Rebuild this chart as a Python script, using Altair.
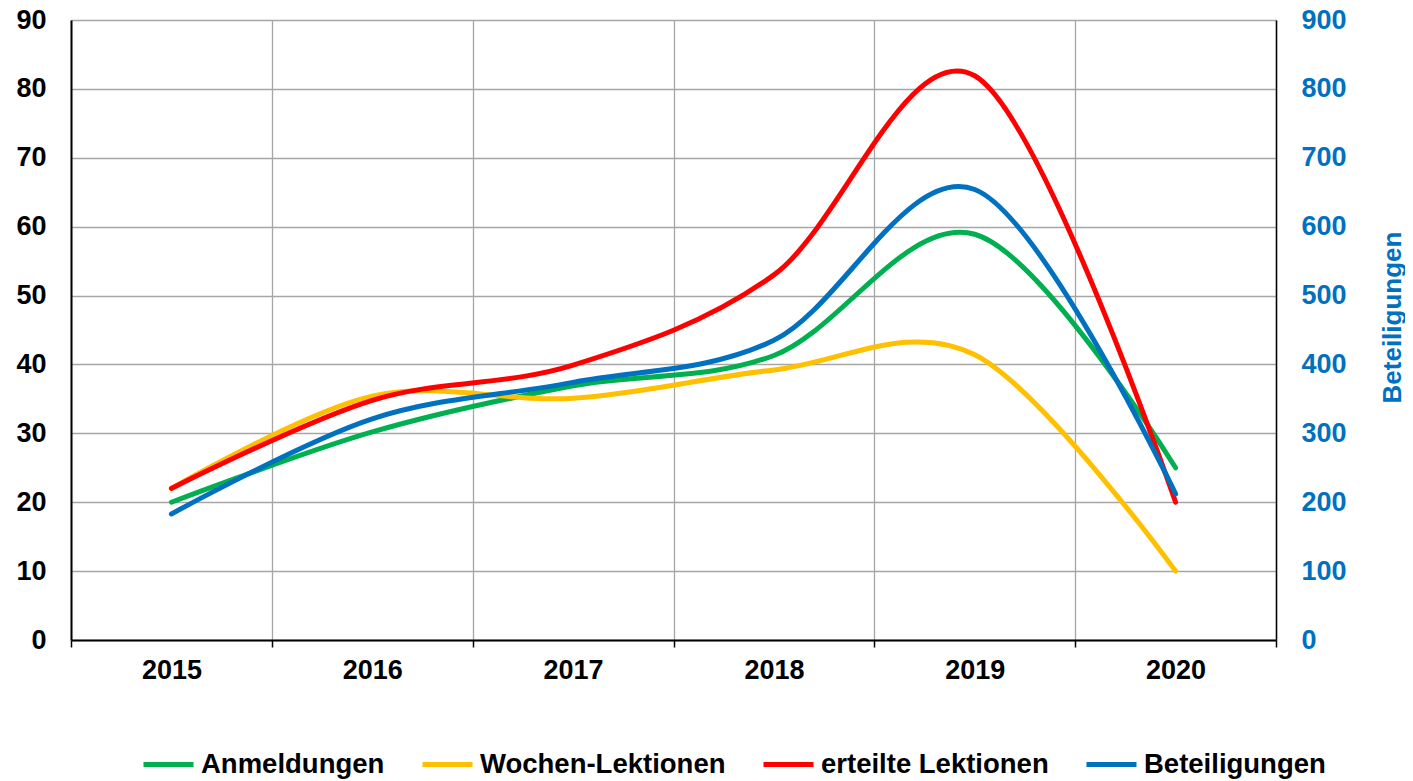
import altair as alt
import pandas as pd

years = ["2015", "2016", "2017", "2018", "2019", "2020"]
anmeldungen = [20.0, 30.2, 36.9, 41.3, 58.9, 25.0]
wochen_lektionen = [22.0, 35.4, 35.1, 39.2, 41.4, 10.0]
erteilte_lektionen = [22.0, 34.8, 39.9, 53.0, 81.9, 20.0]
beteiligungen = [183, 321, 374, 435, 654, 212]

series_names = ["Anmeldungen", "Wochen-Lektionen", "erteilte Lektionen", "Beteiligungen"]
series_colors = ["#00B050", "#FFC000", "#FF0000", "#0070C0"]
left_ticks = [0, 10, 20, 30, 40, 50, 60, 70, 80, 90]
right_ticks = [0, 100, 200, 300, 400, 500, 600, 700, 800, 900]

rows = []
for name, vals in zip(series_names[:3], [anmeldungen, wochen_lektionen, erteilte_lektionen]):
    for y, v in zip(years, vals):
        rows.append({"year": y, "value": v, "series": name, "order": series_names.index(name)})
left_df = pd.DataFrame(rows)
right_df = pd.DataFrame({"year": years, "value": beteiligungen, "series": "Beteiligungen"})

FONT = "Liberation Sans"
FS = 27

color = alt.Color(
    "series:N",
    scale=alt.Scale(domain=series_names, range=series_colors),
    legend=alt.Legend(
        title=None,
        orient="none",
        direction="horizontal",
        legendX=70,
        legendY=717,
        columns=4,
        symbolType="stroke",
        symbolSize=2500,
        symbolStrokeWidth=5,
        symbolOpacity=1,
        labelFontSize=27.5,
        labelFont=FONT,
        labelFontWeight="bold",
        labelColor="black",
        labelOffset=5,
        columnPadding=27,
        padding=0,
        labelLimit=400,
    ),
)

x_enc = alt.X(
    "year:O",
    sort=years,
    bandPosition=0.5,
    scale=alt.Scale(type="band", paddingInner=0, paddingOuter=0),
    axis=alt.Axis(
        title=None,
        tickBand="extent",
        labelAngle=0,
        labelFont=FONT,
        labelFontWeight="bold",
        labelFontSize=FS,
        labelColor="black",
        labelPadding=10,
        tickSize=7,
        tickColor="black",
        tickWidth=1.5,
        domainColor="black",
        domainWidth=2,
        grid=True,
        gridColor="#A6A6A6",
        gridWidth=1.3,
    ),
)

line_style = dict(interpolate="cardinal", strokeWidth=5, strokeCap="round", strokeJoin="round")

left = alt.Chart(left_df).mark_line(**line_style).encode(
    x=x_enc,
    y=alt.Y(
        "value:Q",
        scale=alt.Scale(domain=[0, 90], nice=False),
        axis=alt.Axis(
            title=None,
            values=left_ticks,
            ticks=False,
            labelFont=FONT,
            labelFontWeight="bold",
            labelFontSize=FS,
            labelColor="black",
            labelPadding=25,
            domainColor="black",
            domainWidth=2,
            grid=True,
            gridColor="#A6A6A6",
            gridWidth=1.3,
        ),
    ),
    color=color,
    detail="series:N",
    order="order:Q",
)

right = alt.Chart(right_df).mark_line(**line_style).encode(
    x=alt.X("year:O", sort=years, bandPosition=0.5),
    y=alt.Y(
        "value:Q",
        scale=alt.Scale(domain=[0, 900], nice=False),
        axis=alt.Axis(
            orient="right",
            title="Beteiligungen",
            values=right_ticks,
            ticks=False,
            grid=False,
            labelFont=FONT,
            labelFontWeight="bold",
            labelFontSize=FS,
            labelColor="#0070C0",
            labelPadding=25,
            domainColor="black",
            domainWidth=1.5,
            titleFont=FONT,
            titleFontWeight="bold",
            titleFontSize=26,
            titleColor="#0070C0",
            titleAngle=270,
            titleX=116,
            titleY=297,
            titleAlign="center",
            titleBaseline="middle",
        ),
    ),
    color=color,
)

chart = (
    alt.layer(left, right)
    .resolve_scale(y="independent")
    .properties(
        width=1205,
        height=620,
        autosize="none",
        padding={"left": 63, "top": 12, "right": 129, "bottom": 141},
    )
    .configure_view(stroke="black", strokeWidth=1.5)
    .configure(background="white")
)

chart.save("out.html", embed_options={"renderer": "svg", "actions": False})
